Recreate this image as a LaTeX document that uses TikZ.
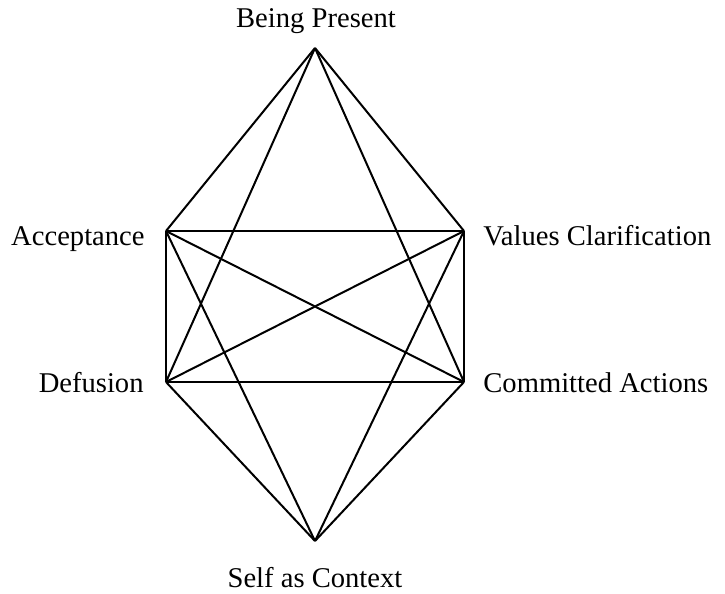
\documentclass[tikz,border=0pt]{standalone}
\usepackage{fontspec}
\setmainfont{Liberation Serif}
\begin{document}
\begin{tikzpicture}[x=0.5pt,y=-0.5pt,
  edge/.style={line width=1pt, line join=miter},
  lbl/.style={inner sep=0pt, font=\fontsize{14.3}{17}\selectfont}]
\useasboundingbox (0,0) rectangle (725,594);
\coordinate (bp) at (315,48);
\coordinate (ac) at (166,231);
\coordinate (vc) at (464,231);
\coordinate (df) at (166,382);
\coordinate (ca) at (464,382);
\coordinate (sc) at (315,541);
\foreach \a/\b in {bp/ac,bp/vc,bp/df,bp/ca,ac/vc,ac/df,ac/ca,ac/sc,vc/df,vc/ca,vc/sc,df/ca,df/sc,ca/sc}
  \draw[edge] (\a) -- (\b);
\node[lbl, anchor=base] (tbp) at (316,27) {Being Present};
\node[lbl, anchor=base east] (tac) at (145,245) {Acceptance};
\node[lbl, anchor=base west] (tvc) at (483,245) {Values Clarification};
\node[lbl, anchor=base east] (tdf) at (144,393) {Defusion};
\node[lbl, anchor=base west] (tca) at (483,393) {Committed Actions};
\node[lbl, anchor=base] (tsc) at (315,587) {Self as Context};
\end{tikzpicture}
\end{document}
